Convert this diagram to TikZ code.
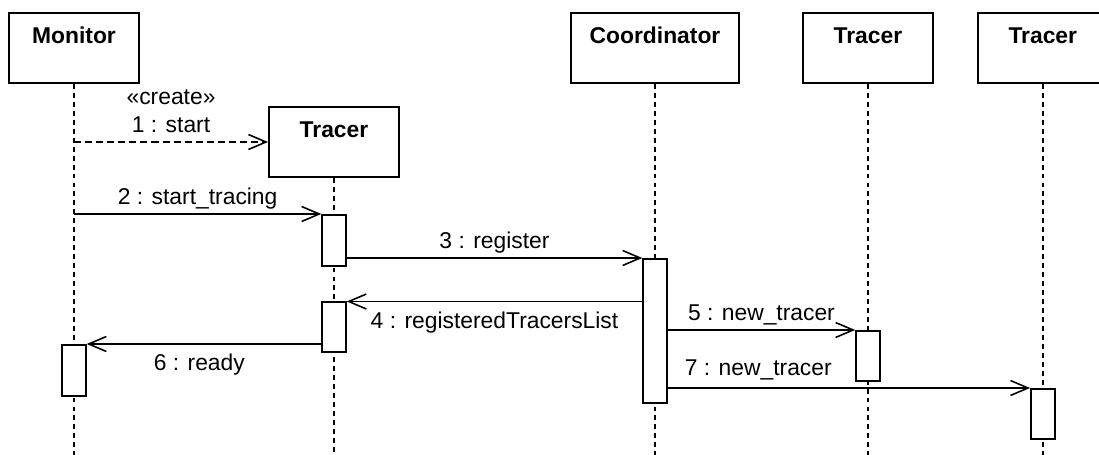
\documentclass[tikz,border=0pt]{standalone}
\usepackage{fontspec}
\setmainfont{Liberation Sans}
\usetikzlibrary{positioning}
\usetikzlibrary{arrows.meta}
\newcommand{\diafont}{\fontsize{13pt}{16pt}\selectfont}
\tikzset{
  objbox/.style={draw, line width=1.1pt, inner sep=0pt, minimum width=2.6cm,
    text height=0.62cm, text depth=0.78cm, font=\diafont\bfseries},
  act/.style={draw, fill=white, line width=1.1pt, inner sep=0pt,
    minimum width=0.47cm, minimum height=1cm, anchor=north},
  lifeline/.style={line width=1pt, dash pattern=on 2.8pt off 2.3pt},
  msg/.style={line width=0.9pt, -{Straight Barb[length=10pt,width=8.5pt]}},
  createmsg/.style={msg, dash pattern=on 4pt off 2.3pt},
  msglabel/.style={inner sep=0pt, text height=9.4pt, text depth=0pt}
}

\begin{document}
\begin{tikzpicture}[x=0.02cm, y=-0.02cm, font=\diafont]
   \useasboundingbox (0,0) rectangle (1099,455);

   \node[objbox] (monitor) at (74,48) {Monitor};
   \node[objbox] (tracerA) at (334,142) {Tracer};
   \node[objbox, minimum width=3.36cm] (coord) at (655,48) {Coordinator};
   \node[objbox, right=1.24cm of coord] (tracerB) {Tracer};
   \node[objbox, right=0.86cm of tracerB] (tracerC) {Tracer};

   \foreach \obj in {monitor,tracerA,coord,tracerB,tracerC}
      \draw[lifeline] (\obj.south) -- (\obj.center |- 0,455);

   \node[act, minimum height=1.02cm] (act1) at (tracerA.center |- 0,214) {};
   \node[act] (act2) at (tracerA.center |- 0,301.5) {};
   \node[act, minimum height=1.02cm] (actM) at (monitor.center |- 0,344) {};
   \node[act, minimum height=2.88cm] (actC) at (coord.center |- 0,258) {};
   \node[act] (actB) at (tracerB.center |- 0,330) {};
   \node[act] (actD) at (tracerC.center |- 0,388) {};

   \draw[createmsg] (monitor.center |- tracerA.west) -- node[msglabel, above=5pt, align=center] {«create»\\1 : start} (tracerA.west);
   \draw[msg] (monitor.center |- act1.north) -- node[msglabel, above=5pt] {2 : start\_tracing} (act1.north west);
   \draw[msg] (act1.east |- actC.north) -- node[msglabel, above=5pt] {3 : register} (actC.north west);
   \draw[msg] (actC.west |- act2.north) -- node[msglabel, below=5.5pt] {4 : registeredTracersList} (act2.north east);
   \draw[msg] (actC.east |- actB.north) -- node[msglabel, above=5pt] {5 : new\_tracer} (actB.north west);
   \draw[msg] (act2.west |- actM.north) -- node[msglabel, below=5.5pt, pos=0.52] {6 : ready} (actM.north east);
   \draw[msg] (actC.east |- actD.north) -- node[msglabel, above=6.5pt, pos=0.25] {7 : new\_tracer} (actD.north west);
\end{tikzpicture}
\end{document}
